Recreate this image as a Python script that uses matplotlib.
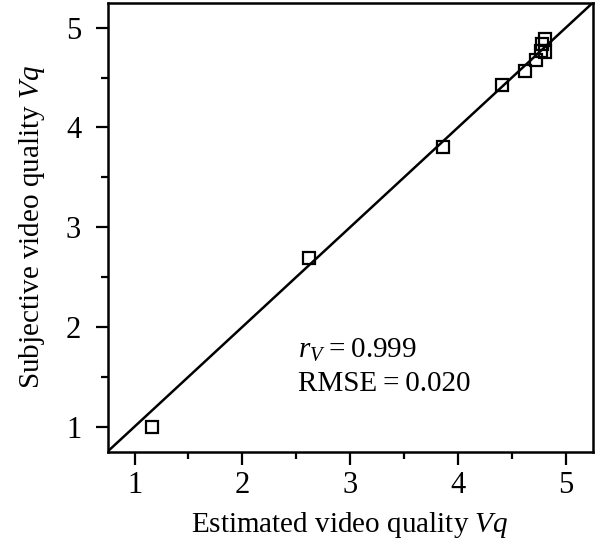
import matplotlib
matplotlib.use("Agg")
import matplotlib.pyplot as plt
from matplotlib.ticker import MultipleLocator

plt.rcParams["font.family"] = ["Liberation Serif", "DejaVu Serif"]
plt.rcParams["mathtext.fontset"] = "custom"
plt.rcParams["mathtext.rm"] = "Liberation Serif"
plt.rcParams["mathtext.it"] = "Liberation Serif:italic"

# Estimated vs subjective video quality
estimated_vq = [1.16, 2.62, 3.86, 4.41, 4.62, 4.72, 4.77, 4.81, 4.78, 4.81]
subjective_vq = [1.00, 2.69, 3.80, 4.43, 4.57, 4.68, 4.77, 4.76, 4.84, 4.89]
axis_range = [0.75, 5.25]
r_v = 0.999
rmse = 0.020

fig = plt.figure(figsize=(6.08, 5.46), dpi=100)
ax = fig.add_axes([0.177, 0.173, 0.798, 0.822])

ax.plot(axis_range, axis_range, color="black", lw=1.8, zorder=2)
ax.plot(estimated_vq, subjective_vq, linestyle="none", marker="s", ms=8,
        mfc="none", mec="black", mew=1.6, zorder=3)

ax.set_xlim(axis_range)
ax.set_ylim(axis_range)
ax.xaxis.set_major_locator(MultipleLocator(1))
ax.yaxis.set_major_locator(MultipleLocator(1))
ax.xaxis.set_minor_locator(MultipleLocator(0.5))
ax.yaxis.set_minor_locator(MultipleLocator(0.5))
ax.tick_params(which="major", direction="out", length=9, width=1.6,
               labelsize=22)
ax.tick_params(axis="x", which="major", pad=5)
ax.tick_params(axis="y", which="major", pad=10)
ax.tick_params(which="minor", direction="out", length=5, width=1.6)
for side in ax.spines.values():
    side.set_linewidth(1.8)

ax.set_xlabel("Estimated video quality $Vq$", fontsize=21, labelpad=7)
ax.set_ylabel("Subjective video quality $Vq$", fontsize=21, labelpad=14)

thin = "\u2009"
ax.text(2.52, 1.685, f"$r_V${thin}={thin}{r_v:.3f}", fontsize=21,
        ha="left", va="baseline")
ax.text(2.52, 1.353, f"RMSE{thin}={thin}{rmse:.3f}", fontsize=21,
        ha="left", va="baseline")

fig.savefig("out.png", dpi=100)
